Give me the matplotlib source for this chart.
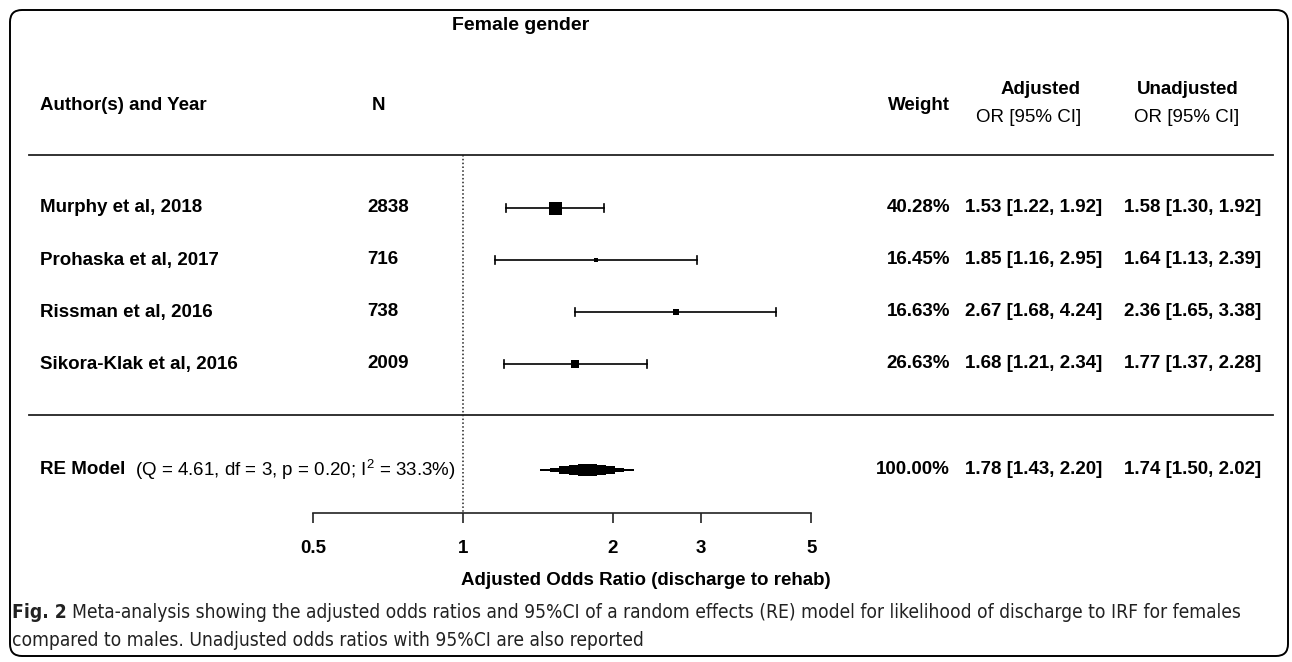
import matplotlib
matplotlib.use('Agg')
import matplotlib.pyplot as plt
from matplotlib import font_manager
from matplotlib.patches import FancyBboxPatch

plt.rcParams['font.family'] = ['Liberation Sans', 'DejaVu Sans']
plt.rcParams['mathtext.fontset'] = 'custom'
plt.rcParams['mathtext.rm'] = 'Liberation Sans'

# data
title = 'Female gender'
studies = ['Murphy et al, 2018', 'Prohaska et al, 2017', 'Rissman et al, 2016', 'Sikora-Klak et al, 2016']
n_pts = ['2838', '716', '738', '2009']
weights = [40.28, 16.45, 16.63, 26.63]
adj_or = [1.53, 1.85, 2.67, 1.68]
adj_lo = [1.22, 1.16, 1.68, 1.21]
adj_hi = [1.92, 2.95, 4.24, 2.34]
unadj_or = [1.58, 1.64, 2.36, 1.77]
unadj_lo = [1.30, 1.13, 1.65, 1.37]
unadj_hi = [1.92, 2.39, 3.38, 2.28]
re_adj = [1.78, 1.43, 2.20]
re_unadj = [1.74, 1.50, 2.02]
re_weight = 100.00
re_q, re_df, re_p, re_i2 = 4.61, 3, 0.20, 33.3
ticks = [0.5, 1, 2, 3, 5]
tick_labels = ['0.5', '1', '2', '3', '5']
xlabel = 'Adjusted Odds Ratio (discharge to rehab)'
caption_bold = 'Fig. 2'
caption_1 = 'Meta-analysis showing the adjusted odds ratios and 95%CI of a random effects (RE) model for likelihood of discharge to IRF for females'
caption_2 = 'compared to males. Unadjusted odds ratios with 95%CI are also reported'

W, H = 1292, 662
fig = plt.figure(figsize=(W / 100, H / 100), dpi=100)
fs = 13.5

# pixel canvas for text / rules / border
cv = fig.add_axes([0, 0, 1, 1])
cv.set_xlim(0, W)
cv.set_ylim(H, 0)
cv.axis('off')

# forest axes on log scale, same area
x_one = 463
ppd = 150  # pixels per doubling
xlim = (2 ** (-x_one / ppd), 2 ** ((W - x_one) / ppd))
fa = fig.add_axes([0, 0, 1, 1])
fa.set_xscale('log', base=2)
fa.set_xlim(*xlim)
fa.set_ylim(H, 0)
fa.axis('off')
fa.patch.set_visible(False)

cv.add_patch(FancyBboxPatch((10, 10), 1278, 646, boxstyle='round,pad=0,rounding_size=12',
                            fill=False, ec='black', lw=1.4))

def fmt_ci(e, lo, hi):
    return f'{e:.2f} [{lo:.2f}, {hi:.2f}]'

# header
cv.text(521, 25, title, ha='center', va='center', fontsize=14, fontweight='bold')
cv.text(40, 105, 'Author(s) and Year', ha='left', va='center', fontsize=fs, fontweight='bold')
cv.text(372, 105, 'N', ha='left', va='center', fontsize=fs, fontweight='bold')
cv.text(950, 105, 'Weight', ha='right', va='center', fontsize=fs, fontweight='bold')
cv.text(1081, 90, 'Adjusted', ha='right', va='center', fontsize=fs, fontweight='bold')
cv.text(1081, 118, 'OR [95% CI]', ha='right', va='center', fontsize=fs)
cv.text(1239, 90, 'Unadjusted', ha='right', va='center', fontsize=fs, fontweight='bold')
cv.text(1239, 118, 'OR [95% CI]', ha='right', va='center', fontsize=fs)
cv.plot([29, 1273], [155, 155], color='#222222', lw=1.3)
cv.plot([29, 1273], [415, 415], color='#222222', lw=1.3)

# reference line at OR = 1
fa.plot([1, 1], [155, 513], color='#222222', lw=1.1, linestyle=(0, (1, 1.5)))

wmin, wmax = min(weights), max(weights)
for i in range(len(studies)):
    y = 208 + 52 * i
    cv.text(40, y, studies[i], ha='left', va='center', fontsize=fs, fontweight='bold')
    cv.text(367, y, n_pts[i], ha='left', va='center', fontsize=fs, fontweight='bold')
    cv.text(950, y, f'{weights[i]:.2f}%', ha='right', va='center', fontsize=fs, fontweight='bold')
    cv.text(1102, y, fmt_ci(adj_or[i], adj_lo[i], adj_hi[i]), ha='right', va='center',
            fontsize=fs, fontweight='bold')
    cv.text(1261, y, fmt_ci(unadj_or[i], unadj_lo[i], unadj_hi[i]), ha='right', va='center',
            fontsize=fs, fontweight='bold')
    fa.plot([adj_lo[i], adj_hi[i]], [y, y], color='black', lw=1.2)
    for v in (adj_lo[i], adj_hi[i]):
        fa.plot([v, v], [y - 4, y + 4], color='black', lw=1.2)
    px = 5 + 8 * (weights[i] - wmin) / (wmax - wmin)
    fa.plot(adj_or[i], y, marker='s', ms=px * 0.72, color='black', mec='black', mew=0)

# RE model row
y = 470
cv.text(40, y, 'RE Model', ha='left', va='center', fontsize=fs, fontweight='bold')
cv.text(135, y, f'(Q = {re_q:.2f}, df = {re_df}, p = {re_p:.2f}; I$^2$ = {re_i2:.1f}%)',
        ha='left', va='center', fontsize=fs)
cv.text(950, y, f'{re_weight:.2f}%', ha='right', va='center', fontsize=fs, fontweight='bold')
cv.text(1102, y, fmt_ci(*re_adj), ha='right', va='center', fontsize=fs, fontweight='bold')
cv.text(1261, y, fmt_ci(*re_unadj), ha='right', va='center', fontsize=fs, fontweight='bold')

# stepped diamond for the pooled estimate
est, lo, hi = re_adj
for f, hh in [(1.0, 1.2), (0.8, 2.4), (0.6, 3.6), (0.4, 4.8), (0.2, 5.8)]:
    left = est * (lo / est) ** f
    right = est * (hi / est) ** f
    fa.fill_between([left, right], [y - hh] * 2, [y + hh] * 2, color='black', lw=0)

# x axis
ax = fig.add_axes([0, 1 - 513 / H, 1, 0.0001])
ax.set_xscale('log', base=2)
ax.set_xlim(*xlim)
ax.patch.set_visible(False)
for s in ('top', 'left', 'right'):
    ax.spines[s].set_visible(False)
ax.spines['bottom'].set_bounds(ticks[0], ticks[-1])
ax.spines['bottom'].set_linewidth(1.2)
ax.spines['bottom'].set_color('#222222')
ax.set_yticks([])
ax.set_xticks(ticks, labels=tick_labels, fontsize=fs, fontweight='bold')
ax.minorticks_off()
ax.tick_params(axis='x', direction='out', length=7.2, width=1.2, color='#222222', pad=12)
ax.set_xlabel(xlabel, fontsize=fs, fontweight='bold', labelpad=11)

# caption (condensed face if one is installed)
names = {f.name for f in font_manager.fontManager.ttflist}
cap_font = 'Liberation Sans Narrow' if 'Liberation Sans Narrow' in names else 'DejaVu Sans'
cap_kw = dict(ha='left', va='center', family=cap_font, fontstretch='condensed', color='#222222')
t1 = cv.text(12, 613, caption_bold, fontsize=12.5, fontweight='bold', **cap_kw)
fig.canvas.draw()
bb = t1.get_window_extent()
t2 = cv.text(bb.x1 + 5, 613, caption_1, fontsize=12.5, **cap_kw)
fig.canvas.draw()
scale = 1236 / (t2.get_window_extent().x1 - 12)
t1.set_fontsize(12.5 * scale)
fig.canvas.draw()
t2.set_fontsize(12.5 * scale)
t2.set_x(t1.get_window_extent().x1 + 5)
cv.text(12, 640, caption_2, fontsize=12.5 * scale, **cap_kw)

fig.savefig('out.png', dpi=100)
